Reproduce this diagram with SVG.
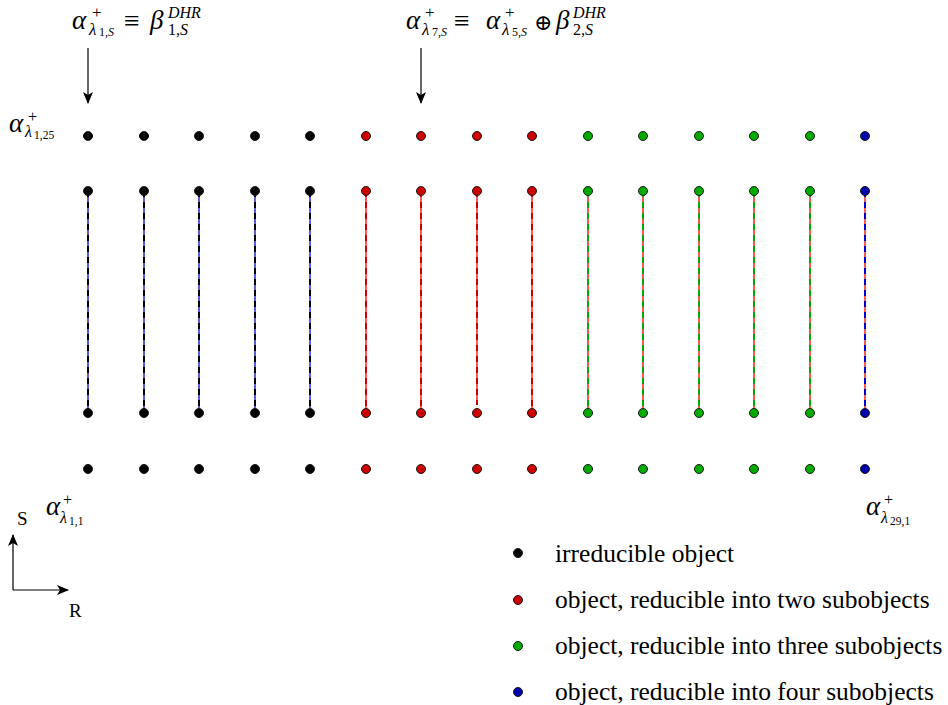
<svg xmlns="http://www.w3.org/2000/svg" width="948" height="705" viewBox="0 0 948 705">
<style>
.m{fill:#000}
.i{font-style:italic}
.t{font-size:25.5px;fill:#000}
.dot{stroke:#1a1a1a;stroke-width:1}
.k{fill:#000}.r{fill:#cc0000}.g{fill:#00aa00}.b{fill:#0000aa}
.base{stroke-width:1.3;fill:none}
.dash{stroke-width:2;stroke-dasharray:6 5;fill:none}
.ax{stroke:#000;stroke-width:1.2;fill:none}
</style>
<defs>
<marker id="ah" viewBox="0 0 12 10" refX="11" refY="5" markerWidth="12" markerHeight="10" markerUnits="userSpaceOnUse" orient="auto">
<path d="M0,0 L12,5 L0,10 L3,5 Z" fill="#000"/>
</marker>
</defs>

<g id="connectors">
<line class="ax" x1="88" y1="48" x2="88" y2="103" marker-end="url(#ah)"/>
<line class="ax" x1="421" y1="48" x2="421" y2="103" marker-end="url(#ah)"/>
<line class="ax" x1="13" y1="590" x2="13" y2="535" marker-end="url(#ah)"/>
<line class="ax" x1="13" y1="590" x2="68" y2="590" marker-end="url(#ah)"/>
<g stroke="#0000cc" class="base">
<line x1="88" y1="191" x2="88" y2="413"/><line x1="144" y1="191" x2="144" y2="413"/><line x1="199" y1="191" x2="199" y2="413"/><line x1="255" y1="191" x2="255" y2="413"/><line x1="310" y1="191" x2="310" y2="413"/>
</g>
<g stroke="#000" class="dash">
<line x1="88" y1="191" x2="88" y2="413"/><line x1="144" y1="191" x2="144" y2="413"/><line x1="199" y1="191" x2="199" y2="413"/><line x1="255" y1="191" x2="255" y2="413"/><line x1="310" y1="191" x2="310" y2="413"/>
</g>
<g stroke="#ee0000" class="base">
<line x1="366" y1="191" x2="366" y2="413"/><line x1="421" y1="191" x2="421" y2="413"/><line x1="477" y1="191" x2="477" y2="405"/><line x1="532" y1="191" x2="532" y2="413"/>
<line x1="588" y1="191" x2="588" y2="413"/><line x1="643" y1="191" x2="643" y2="413"/><line x1="699" y1="191" x2="699" y2="413"/><line x1="754" y1="191" x2="754" y2="413"/><line x1="810" y1="191" x2="810" y2="413"/>
<line x1="865" y1="191" x2="865" y2="413"/>
</g>
<g stroke="#cc0000" class="dash">
<line x1="366" y1="191" x2="366" y2="413"/><line x1="421" y1="191" x2="421" y2="413"/><line x1="477" y1="191" x2="477" y2="405"/><line x1="532" y1="191" x2="532" y2="413"/>
</g>
<g stroke="#00aa00" class="dash">
<line x1="588" y1="191" x2="588" y2="413"/><line x1="643" y1="191" x2="643" y2="413"/><line x1="699" y1="191" x2="699" y2="413"/><line x1="754" y1="191" x2="754" y2="413"/><line x1="810" y1="191" x2="810" y2="413"/>
</g>
<g stroke="#0000cc" class="dash">
<line x1="865" y1="191" x2="865" y2="413"/>
</g>
</g>

<g id="nodes">
<g id="row1">
<circle class="dot k" cx="88" cy="136" r="4.5"/><circle class="dot k" cx="144" cy="136" r="4.5"/><circle class="dot k" cx="199" cy="136" r="4.5"/><circle class="dot k" cx="255" cy="136" r="4.5"/><circle class="dot k" cx="310" cy="136" r="4.5"/>
<circle class="dot r" cx="366" cy="136" r="4.5"/><circle class="dot r" cx="421" cy="136" r="4.5"/><circle class="dot r" cx="477" cy="136" r="4.5"/><circle class="dot r" cx="532" cy="136" r="4.5"/>
<circle class="dot g" cx="588" cy="136" r="4.5"/><circle class="dot g" cx="643" cy="136" r="4.5"/><circle class="dot g" cx="699" cy="136" r="4.5"/><circle class="dot g" cx="754" cy="136" r="4.5"/><circle class="dot g" cx="810" cy="136" r="4.5"/>
<circle class="dot b" cx="865" cy="136" r="4.5"/>
</g>
<g id="row2">
<circle class="dot k" cx="88" cy="191" r="4.5"/><circle class="dot k" cx="144" cy="191" r="4.5"/><circle class="dot k" cx="199" cy="191" r="4.5"/><circle class="dot k" cx="255" cy="191" r="4.5"/><circle class="dot k" cx="310" cy="191" r="4.5"/>
<circle class="dot r" cx="366" cy="191" r="4.5"/><circle class="dot r" cx="421" cy="191" r="4.5"/><circle class="dot r" cx="477" cy="191" r="4.5"/><circle class="dot r" cx="532" cy="191" r="4.5"/>
<circle class="dot g" cx="588" cy="191" r="4.5"/><circle class="dot g" cx="643" cy="191" r="4.5"/><circle class="dot g" cx="699" cy="191" r="4.5"/><circle class="dot g" cx="754" cy="191" r="4.5"/><circle class="dot g" cx="810" cy="191" r="4.5"/>
<circle class="dot b" cx="865" cy="191" r="4.5"/>
</g>
<g id="row3">
<circle class="dot k" cx="88" cy="413" r="4.5"/><circle class="dot k" cx="144" cy="413" r="4.5"/><circle class="dot k" cx="199" cy="413" r="4.5"/><circle class="dot k" cx="255" cy="413" r="4.5"/><circle class="dot k" cx="310" cy="413" r="4.5"/>
<circle class="dot r" cx="366" cy="413" r="4.5"/><circle class="dot r" cx="421" cy="413" r="4.5"/><circle class="dot r" cx="477" cy="413" r="4.5"/><circle class="dot r" cx="532" cy="413" r="4.5"/>
<circle class="dot g" cx="588" cy="413" r="4.5"/><circle class="dot g" cx="643" cy="413" r="4.5"/><circle class="dot g" cx="699" cy="413" r="4.5"/><circle class="dot g" cx="754" cy="413" r="4.5"/><circle class="dot g" cx="810" cy="413" r="4.5"/>
<circle class="dot b" cx="865" cy="413" r="4.5"/>
</g>
<g id="row4">
<circle class="dot k" cx="88" cy="469" r="4.5"/><circle class="dot k" cx="144" cy="469" r="4.5"/><circle class="dot k" cx="199" cy="469" r="4.5"/><circle class="dot k" cx="255" cy="469" r="4.5"/><circle class="dot k" cx="310" cy="469" r="4.5"/>
<circle class="dot r" cx="366" cy="469" r="4.5"/><circle class="dot r" cx="421" cy="469" r="4.5"/><circle class="dot r" cx="477" cy="469" r="4.5"/><circle class="dot r" cx="532" cy="469" r="4.5"/>
<circle class="dot g" cx="588" cy="469" r="4.5"/><circle class="dot g" cx="643" cy="469" r="4.5"/><circle class="dot g" cx="699" cy="469" r="4.5"/><circle class="dot g" cx="754" cy="469" r="4.5"/><circle class="dot g" cx="810" cy="469" r="4.5"/>
<circle class="dot b" cx="865" cy="469" r="4.5"/>
</g>
</g>

<g font-family="Liberation Serif, DejaVu Serif, serif">
<g id="label-top-left" class="m">
<text class="i" x="72" y="29" font-size="27">α</text>
<text x="92" y="18" font-size="17">+</text>
<text class="i" x="89" y="35" font-size="17">λ</text>
<text x="99" y="36" font-size="12">1,<tspan font-style="italic">S</tspan></text>
<text x="124" y="30" font-size="28">≡</text>
<text class="i" x="150" y="29" font-size="27">β</text>
<text class="i" x="168" y="18" font-size="16">DHR</text>
<text x="168" y="35" font-size="16">1,<tspan font-style="italic">S</tspan></text>
</g>

<g id="label-top-mid" class="m">
<text class="i" x="406" y="29" font-size="27">α</text>
<text x="425" y="18" font-size="17">+</text>
<text class="i" x="422" y="35" font-size="17">λ</text>
<text x="432" y="36" font-size="12">7,<tspan font-style="italic">S</tspan></text>
<text x="454" y="30" font-size="28">≡</text>
<text class="i" x="486" y="29" font-size="27">α</text>
<text x="505" y="18" font-size="17">+</text>
<text class="i" x="502" y="35" font-size="17">λ</text>
<text x="512" y="36" font-size="12">5,<tspan font-style="italic">S</tspan></text>
<text x="534" y="30" font-size="22">⊕</text>
<text class="i" x="556" y="29" font-size="27">β</text>
<text class="i" x="573" y="18" font-size="16">DHR</text>
<text x="573" y="35" font-size="16">2,<tspan font-style="italic">S</tspan></text>
</g>

<g id="label-left" class="m">
<text class="i" x="9" y="132" font-size="27">α</text>
<text x="28" y="122" font-size="16">+</text>
<text class="i" x="25" y="137" font-size="16">λ</text>
<text x="34" y="139" font-size="11.5">1,25</text>
</g>

<g id="label-bottom-left" class="m">
<text class="i" x="46" y="515" font-size="27">α</text>
<text x="63" y="505" font-size="16">+</text>
<text class="i" x="60" y="523" font-size="16">λ</text>
<text x="69" y="525" font-size="11.5">1,1</text>
</g>

<g id="label-bottom-right" class="m">
<text class="i" x="866" y="515" font-size="27">α</text>
<text x="884" y="505" font-size="16">+</text>
<text class="i" x="881" y="523" font-size="16">λ</text>
<text x="890" y="525" font-size="11.5">29,1</text>
</g>

<g id="axes-labels" class="m">
<text x="17" y="525" font-size="19">S</text>
<text x="69" y="617" font-size="19">R</text>
</g>

<g id="legend">
<circle class="dot k" cx="518" cy="553" r="4.5"/>
<text class="t" x="555" y="562">irreducible object</text>
<circle class="dot r" cx="518" cy="600" r="4.5"/>
<text class="t" x="555" y="608">object, reducible into two subobjects</text>
<circle class="dot g" cx="518" cy="646" r="4.5"/>
<text class="t" x="555" y="654">object, reducible into three subobjects</text>
<circle class="dot b" cx="518" cy="692" r="4.5"/>
<text class="t" x="555" y="700">object, reducible into four subobjects</text>
</g>
</g>
</svg>
